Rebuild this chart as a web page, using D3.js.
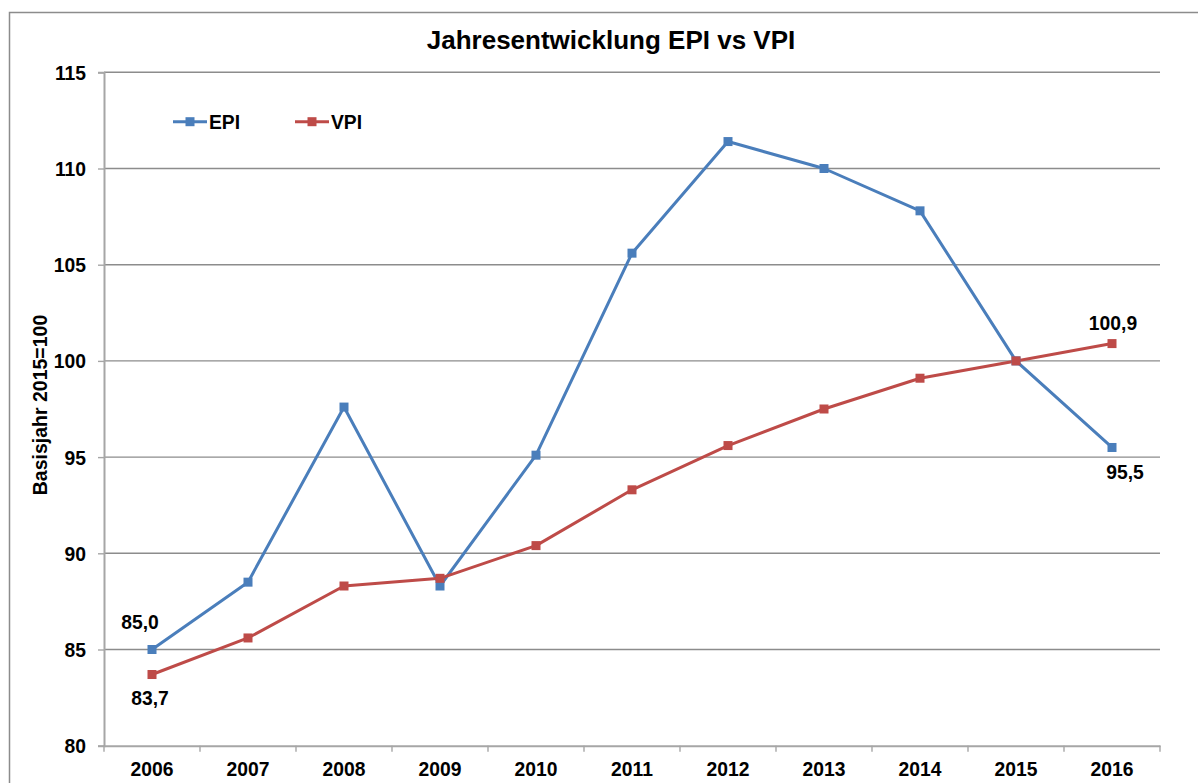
<!DOCTYPE html>
<html><head><meta charset="utf-8">
<script src="https://cdn.jsdelivr.net/npm/d3@7"></script>
<style>
html,body{margin:0;padding:0;background:#fff;}
text{font-family:Arial,"Liberation Sans",sans-serif;font-weight:bold;fill:#000;}
</style></head>
<body>
<svg id="c" width="1198" height="783"></svg>
<script>
const years = ["2006","2007","2008","2009","2010","2011","2012","2013","2014","2015","2016"];
const epi = [85.0, 88.5, 97.6, 88.3, 95.1, 105.6, 111.4, 110.0, 107.8, 100.0, 95.5];
const vpi = [83.7, 85.6, 88.3, 88.7, 90.4, 93.3, 95.6, 97.5, 99.1, 100.0, 100.9];
const yTicks = [80, 85, 90, 95, 100, 105, 110, 115];
const seriesNames = ["EPI", "VPI"];
const seriesColors = ["#4a7ebb", "#be4b48"];
const title = "Jahresentwicklung EPI vs VPI";
const yTitle = "Basisjahr 2015=100";

const svg = d3.select("#c");
const L = 104, R = 1160, T = 72.3, B = 745.7;
const FS = "19.3px";

// outer border
svg.append("path").attr("d", `M9.5,790 V12.5 H1210`).attr("fill","none")
  .attr("stroke","#8c8c8c").attr("stroke-width",1.5);

const x = d3.scaleBand().domain(years).range([L, R]).paddingInner(0).paddingOuter(0);
const y = d3.scaleLinear().domain([80, 115]).range([B, T]);
const cx = d => x(d) + x.bandwidth()/2;

// gridlines
svg.append("g").selectAll("line").data(yTicks.filter(v => v > 80)).join("line")
  .attr("x1", L).attr("x2", R).attr("y1", d => y(d)).attr("y2", d => y(d))
  .attr("stroke", "#8c8c8c").attr("stroke-width", 1.4);

// y axis
const yAxis = d3.axisLeft(y).tickValues(yTicks).tickSize(6).tickPadding(12).tickFormat(d3.format("d"));
const gy = svg.append("g").attr("transform", `translate(${L},0)`).call(yAxis);
gy.select(".domain").attr("stroke", "#a6a6a6").attr("stroke-width", 2);
gy.selectAll(".tick line").attr("stroke", "#a6a6a6").attr("stroke-width", 1.4);
gy.selectAll(".tick text").style("font-size", FS).style("font-family","Arial, 'Liberation Sans', sans-serif")
  .style("font-weight","bold").attr("fill","#000").attr("dy","0.36em");

// x axis
const xAxis = d3.axisBottom(x).tickSize(0).tickPadding(17);
const gx = svg.append("g").attr("transform", `translate(0,${B})`).call(xAxis);
gx.select(".domain").attr("stroke", "#a6a6a6").attr("stroke-width", 2);
gx.selectAll(".tick text").style("font-size", FS).style("font-family","Arial, 'Liberation Sans', sans-serif")
  .style("font-weight","bold").attr("fill","#000");
// x tick marks at band boundaries
svg.append("g").selectAll("line").data(years.concat(["end"])).join("line")
  .attr("x1", (d,i) => L + i*x.bandwidth()).attr("x2", (d,i) => L + i*x.bandwidth())
  .attr("y1", B).attr("y2", B + 6).attr("stroke", "#a6a6a6").attr("stroke-width", 1.4);

// lines
const line = d3.line().x((d,i) => cx(years[i])).y(d => y(d));
[epi, vpi].forEach((s, k) => {
  svg.append("path").datum(s).attr("d", line).attr("fill","none")
    .attr("stroke", seriesColors[k]).attr("stroke-width", 3).attr("stroke-linejoin","round");
});
[epi, vpi].forEach((s, k) => {
  svg.append("g").selectAll("rect").data(s).join("rect")
    .attr("x", (d,i) => cx(years[i]) - 4.5).attr("y", d => y(d) - 4.5)
    .attr("width", 9).attr("height", 9).attr("fill", seriesColors[k]);
});

// data labels
const fmt = v => v.toFixed(1).replace(".", ",");
const labels = [
  {v: epi[0], i: 0, dx: -12, dy: -21},
  {v: vpi[0], i: 0, dx: -2, dy: 30},
  {v: vpi[10], i: 10, dx: 1, dy: -14},
  {v: epi[10], i: 10, dx: 13, dy: 32}
];
svg.append("g").selectAll("text").data(labels).join("text")
  .attr("x", d => cx(years[d.i]) + d.dx).attr("y", d => y(d.v) + d.dy)
  .attr("text-anchor","middle").style("font-size",FS).text(d => fmt(d.v));

// title
svg.append("text").attr("x", 611).attr("y", 48.5).attr("text-anchor","middle")
  .style("font-size","26px").text(title);

// y axis title
svg.append("text").attr("transform", "translate(47,405) rotate(-90)").attr("text-anchor","middle")
  .style("font-size","19.5px").text(yTitle);

// legend
const legX = [173, 295];
seriesNames.forEach((n, k) => {
  const g = svg.append("g").attr("transform", `translate(${legX[k]},121.7)`);
  g.append("line").attr("x1", 0).attr("x2", 34).attr("stroke", seriesColors[k]).attr("stroke-width", 3);
  g.append("rect").attr("x", 12.5).attr("y", -4.5).attr("width", 9).attr("height", 9).attr("fill", seriesColors[k]);
  g.append("text").attr("x", 36).attr("y", 0).attr("dy", "0.36em").style("font-size",FS).text(n);
});
</script>
</body></html>
